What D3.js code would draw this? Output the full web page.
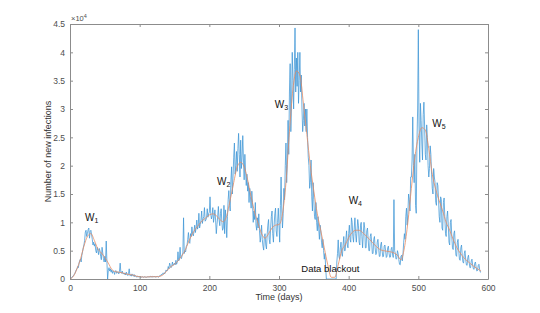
<!DOCTYPE html>
<html>
<head>
<meta charset="utf-8">
<script src="https://cdn.jsdelivr.net/npm/d3@7"></script>
<style>
  body { margin: 0; background: #fff; }
  svg { display: block; font-family: "Liberation Sans", Arial, sans-serif; }
</style>
</head>
<body>
<svg id="chart" width="540" height="313"></svg>
<script>
// daily new infections, in thousands (day = index)
var rawCases = [
  0, 0.1, 0.2, 0.3, 0.5, 0.6, 0.8, 1.0, 1.3, 1.6,
  1.8, 2.2, 2.0, 2.8, 3.3, 3.5, 3.0, 4.2, 4.8, 5.5,
  6.0, 6.8, 8.3, 8.6, 7.5, 8.0, 8.7, 9.0, 7.2, 8.4,
  8.6, 7.8, 7.0, 6.0, 6.5, 5.8, 6.2, 5.0, 4.6, 5.6,
  5.0, 4.3, 5.4, 5.0, 4.0, 3.4, 5.6, 4.6, 3.6, 3.0,
  4.0, 3.0, 6.7, 3.0, 0.0, 1.5, 2.0, 1.4, 1.8, 1.2,
  1.6, 1.0, 1.4, 1.3, 0.8, 1.4, 1.5, 1.0, 1.2, 1.3,
  0.9, 1.3, 2.8, 1.2, 1.0, 1.4, 0.9, 1.0, 0.8, 1.1,
  0.7, 1.2, 0.8, 0.6, 1.0, 1.8, 0.6, 0.7, 0.5, 0.9,
  0.6, 0.5, 0.8, 0.4, 0.6, 0.5, 0.3, 0.5, 0.4, 0.4,
  0.4, 0.3, 0.4, 0.3, 0.4, 0.3, 0.3, 0.4, 0.3, 0.4,
  0.3, 0.4, 0.3, 0.4, 0.4, 0.3, 0.5, 0.4, 0.3, 0.5,
  0.4, 0.4, 0.5, 0.3, 0.4, 0.5, 0.4, 0.3, 0.5, 0.6,
  0.6, 0.8, 0.7, 1.0, 0.9, 1.1, 0.9, 1.3, 1.6, 1.4,
  1.5, 2.2, 1.8, 2.8, 2.4, 2.0, 2.2, 3.0, 2.4, 2.6,
  2.8, 2.5, 3.3, 2.6, 3.0, 4.8, 3.2, 3.4, 5.6, 3.8,
  3.6, 4.2, 4.6, 10.8, 4.5, 5.0, 4.8, 5.8, 6.0, 7.0,
  8.2, 6.5, 6.3, 8.0, 7.5, 9.2, 8.0, 7.6, 8.4, 9.5,
  8.2, 9.0, 10.4, 8.8, 9.3, 11.6, 9.0, 9.6, 10.4, 12.0,
  9.8, 10.6, 11.0, 12.6, 10.2, 10.4, 10.8, 12.4, 10.9, 11.5,
  11.8, 14.5, 11.5, 10.6, 11.2, 12.6, 10.0, 11.0, 12.2, 10.4,
  8.0, 9.6, 11.0, 12.8, 10.5, 9.4, 11.6, 12.4, 10.0, 8.6,
  9.0, 13.0, 8.0, 12.2, 10.5, 7.3, 11.0, 14.0, 15.6, 13.0,
  12.0, 17.5, 19.8, 15.0, 18.0, 21.5, 24.0, 18.5, 20.0, 22.5,
  19.0, 23.0, 25.7, 22.0, 18.0, 24.5, 19.5, 21.5, 25.3, 21.0,
  17.5, 22.0, 19.0, 16.5, 18.5, 15.5, 17.0, 13.5, 16.0, 14.5,
  12.5, 15.5, 13.5, 10.0, 12.0, 10.5, 13.5, 9.5, 8.6, 10.8,
  9.0, 11.5, 8.5, 6.5, 7.6, 9.5, 7.0, 5.8, 5.1, 7.5,
  8.0, 6.0, 5.3, 7.8, 9.5, 10.5, 7.0, 6.2, 9.0, 11.0,
  12.0, 8.0, 6.5, 9.5, 11.5, 12.5, 8.5, 7.5, 10.0, 12.5,
  9.5, 6.5, 13.0, 18.0, 12.0, 9.0, 11.5, 16.0, 14.0, 20.0,
  24.0, 17.0, 21.0, 28.0, 22.0, 33.0, 38.0, 26.0, 31.0, 40.0,
  35.0, 30.0, 37.0, 44.3, 33.0, 39.0, 34.0, 40.0, 31.0, 35.0,
  40.0, 33.0, 36.0, 30.0, 26.0, 28.0, 31.0, 27.0, 30.0, 26.0,
  30.0, 25.0, 21.5, 20.0, 16.0, 17.0, 21.0, 14.5, 12.0, 17.0,
  14.0, 11.0, 10.5, 13.5, 10.0, 8.5, 11.0, 9.0, 7.0, 9.5,
  8.5, 6.5, 5.5, 7.0, 5.0, 3.5, 4.5, 2.0, 0.0, 0.0,
  0, 0, 0, 0, 0, 0, 0, 0, 0, 0,
  0, 0, 0, 3.0, 4.5, 6.9, 4.0, 3.5, 5.5, 6.5,
  4.5, 4.0, 6.0, 7.5, 5.0, 5.0, 7.0, 8.5, 6.0, 5.5,
  8.0, 9.5, 7.0, 6.5, 10.8, 10.0, 7.5, 6.5, 9.0, 10.8,
  8.0, 6.5, 8.5, 10.5, 9.5, 6.5, 6.0, 9.5, 10.0, 7.5,
  5.5, 8.0, 10.0, 9.0, 5.5, 5.5, 8.5, 9.0, 7.0, 5.0,
  5.0, 7.5, 8.0, 6.5, 4.5, 4.5, 7.0, 7.5, 5.5, 4.3,
  4.5, 6.5, 7.0, 5.5, 4.0, 4.0, 6.0, 6.5, 5.0, 3.9,
  4.0, 5.8, 6.0, 5.0, 3.8, 4.0, 5.5, 5.8, 4.5, 3.8,
  3.9, 5.3, 5.6, 4.4, 3.8, 14.0, 5.0, 4.5, 3.5, 3.6,
  5.0, 4.5, 3.4, 2.6, 2.5, 4.0, 4.2, 3.2, 4.5, 6.5,
  8.0, 7.0, 11.0, 12.5, 9.5, 11.5, 15.0, 14.0, 12.0, 18.0,
  18.0, 21.0, 28.6, 20.0, 17.0, 22.0, 13.0, 11.6, 24.0, 30.0,
  44.0, 27.0, 20.6, 31.0, 28.0, 24.0, 21.0, 29.0, 31.2, 27.0,
  22.0, 21.0, 27.2, 25.0, 20.0, 18.0, 19.5, 23.5, 22.0, 18.5,
  16.0, 15.0, 19.5, 18.0, 17.0, 13.5, 13.0, 17.0, 16.5, 14.0,
  11.0, 10.0, 14.5, 14.0, 9.0, 8.6, 13.5, 14.3, 11.0, 8.0,
  7.5, 11.0, 12.0, 9.5, 6.5, 6.0, 10.0, 10.5, 7.5, 5.5,
  5.2, 8.0, 8.5, 6.0, 4.2, 4.0, 6.5, 7.0, 5.0, 3.5,
  3.3, 5.5, 6.0, 4.2, 3.0, 2.8, 4.5, 5.0, 3.4, 2.5,
  2.4, 3.8, 4.2, 2.9, 2.0, 2.0, 3.2, 3.5, 2.4, 1.8,
  1.7, 2.8, 3.0, 2.0, 1.4, 1.5, 2.4, 2.6, 1.7, 1.2,
  1.3
];

// smoothed trend, in thousands
var smoothDays = [
  0, 5, 10, 15, 20, 25, 30, 35, 40, 45, 50, 55, 60, 65, 70, 75, 80, 85, 90, 95,
  100, 105, 110, 115, 120, 125, 130, 135, 140, 145, 150, 155, 160, 165, 170, 175, 180, 185, 190, 195,
  200, 205, 210, 215, 220, 225, 230, 235, 240, 245, 250, 255, 260, 265, 270, 275, 280, 285, 290, 295,
  300, 305, 310, 315, 320, 325, 330, 335, 340, 345, 350, 355, 360, 365, 370, 375, 380, 385, 390, 395,
  400, 405, 410, 415, 420, 425, 430, 435, 440, 445, 450, 455, 460, 465, 470, 475, 480, 485, 490, 495,
  500, 505, 510, 515, 520, 525, 530, 535, 540, 545, 550, 555, 560, 565, 570, 575, 580, 585, 590
];
var smoothCases = [
  0, 0.5, 1.8, 3.5, 5.8, 7.5, 8.0, 6.8, 5.3, 4.6, 3.8, 2.8, 1.7, 1.3, 1.2, 1.1, 0.9, 0.8, 0.7, 0.5,
  0.4, 0.35, 0.35, 0.4, 0.4, 0.4, 0.5, 0.9, 1.6, 2.2, 2.6, 3.2, 4.0, 5.0, 6.5, 7.8, 8.8, 9.6, 10.3, 10.8,
  11.3, 11.5, 11.2, 10.5, 10.1, 11.2, 14.0, 17.0, 19.8, 20.6, 19.8, 17.5, 14.5, 11.8, 9.8, 8.0, 7.2, 8.0, 9.0, 9.5,
  9.6, 11.5, 17.0, 26.0, 33.5, 36.7, 36.0, 31.0, 25.5, 20.0, 15.5, 11.5, 8.5, 5.5, 2.5, 0.3, 0.3, 2.5, 5.0, 6.0,
  7.3, 8.2, 8.6, 8.6, 8.2, 7.6, 7.0, 6.3, 5.7, 5.2, 5.0, 4.9, 4.8, 4.6, 4.2, 3.4, 5.5, 10.0, 16.0, 21.5,
  25.0, 26.7, 26.3, 23.0, 18.5, 15.8, 13.8, 12.0, 10.0, 8.6, 7.0, 5.6, 4.6, 3.8, 3.2, 2.7, 2.2, 1.8, 1.4
];

var xTicks = [0, 100, 200, 300, 400, 500, 600];
var yTicks = [0, 5000, 10000, 15000, 20000, 25000, 30000, 35000, 40000, 45000];
var yTickLabels = ["0", "0.5", "1", "1.5", "2", "2.5", "3", "3.5", "4", "4.5"];

// wave labels, anchored in data units (day, infections)
var waveLabels = [
  {sub: "1", day: 21.5, value: 10200},
  {sub: "2", day: 211, value: 16600},
  {sub: "3", day: 294, value: 30200},
  {sub: "4", day: 400, value: 13200},
  {sub: "5", day: 520, value: 26800}
];

var plot = {left: 70, right: 488, top: 24, bottom: 279};
var axisColor = "#8c8c8c";
var textColor = "#4d4d4d";

var svg = d3.select("#chart");

var x = d3.scaleLinear().domain([0, 600]).range([plot.left, plot.right]);
var y = d3.scaleLinear().domain([0, 45000]).range([plot.bottom, plot.top]);

svg.append("defs").append("clipPath").attr("id", "clip")
  .append("rect")
    .attr("x", plot.left)
    .attr("y", plot.top)
    .attr("width", plot.right - plot.left)
    .attr("height", plot.bottom - plot.top);

var lines = svg.append("g").attr("clip-path", "url(#clip)");

//raw daily series
lines.append("path")
  .datum(rawCases)
  .attr("fill", "none")
  .attr("stroke", "#3d95d6")
  .attr("stroke-width", 0.75)
  .attr("stroke-linejoin", "round")
  .attr("d", d3.line()
    .x(function(d, i) { return x(i); })
    .y(function(d) { return y(d * 1000); }));

//smoothed trend
lines.append("path")
  .datum(smoothCases)
  .attr("fill", "none")
  .attr("stroke", "#e68a62")
  .attr("stroke-width", 0.8)
  .attr("d", d3.line()
    .curve(d3.curveMonotoneX)
    .x(function(d, i) { return x(smoothDays[i]); })
    .y(function(d) { return y(d * 1000); }));

// axes: bottom/left with labels, top/right ticks only (boxed look)
function styleAxis(g) {
  g.select(".domain").attr("stroke", axisColor).attr("stroke-width", 1);
  g.selectAll(".tick line").attr("stroke", axisColor);
  g.selectAll(".tick text")
    .attr("fill", textColor)
    .style("font-size", "8.5px")
    .style("font-family", "Liberation Sans, Arial, sans-serif");
}

svg.append("g")
  .attr("transform", "translate(0," + plot.bottom + ")")
  .call(d3.axisBottom(x).tickValues(xTicks).tickSizeInner(-3).tickSizeOuter(0).tickPadding(6))
  .call(styleAxis);

svg.append("g")
  .attr("transform", "translate(" + plot.left + ",0)")
  .call(d3.axisLeft(y).tickValues(yTicks).tickSizeInner(-3).tickSizeOuter(0).tickPadding(5)
    .tickFormat(function(d, i) { return yTickLabels[i]; }))
  .call(styleAxis);

svg.append("g")
  .attr("transform", "translate(0," + plot.top + ")")
  .call(d3.axisTop(x).tickValues(xTicks).tickSizeInner(-3).tickSizeOuter(0).tickFormat(""))
  .call(styleAxis);

svg.append("g")
  .attr("transform", "translate(" + plot.right + ",0)")
  .call(d3.axisRight(y).tickValues(yTicks).tickSizeInner(-3).tickSizeOuter(0).tickFormat(""))
  .call(styleAxis);

// exponent marker
var expo = svg.append("text")
  .attr("x", plot.left + 1)
  .attr("y", plot.top - 3)
  .attr("fill", textColor)
  .style("font-size", "7.5px");
expo.append("tspan").text("\u00d710");
expo.append("tspan").attr("dy", -3).style("font-size", "5.5px").text("4");

// axis titles
svg.append("text")
  .attr("x", (plot.left + plot.right) / 2)
  .attr("y", 300)
  .attr("text-anchor", "middle")
  .attr("fill", "#333")
  .style("font-size", "9px")
  .text("Time (days)");

svg.append("text")
  .attr("transform", "translate(51," + (plot.top + plot.bottom) / 2 + ") rotate(-90)")
  .attr("text-anchor", "middle")
  .attr("fill", "#333")
  .style("font-size", "9px")
  .text("Number of new infections");

// wave annotations
waveLabels.forEach(function(w) {
  var t = svg.append("text")
    .attr("x", x(w.day))
    .attr("y", y(w.value))
    .attr("fill", "#111")
    .style("font-size", "10px");
  t.append("tspan").text("W");
  t.append("tspan").attr("dy", 2).style("font-size", "7px").text(w.sub);
});

svg.append("text")
  .attr("x", x(332))
  .attr("y", y(1250))
  .attr("fill", "#111")
  .style("font-size", "9.5px")
  .text("Data blackout");
</script>
</body>
</html>
